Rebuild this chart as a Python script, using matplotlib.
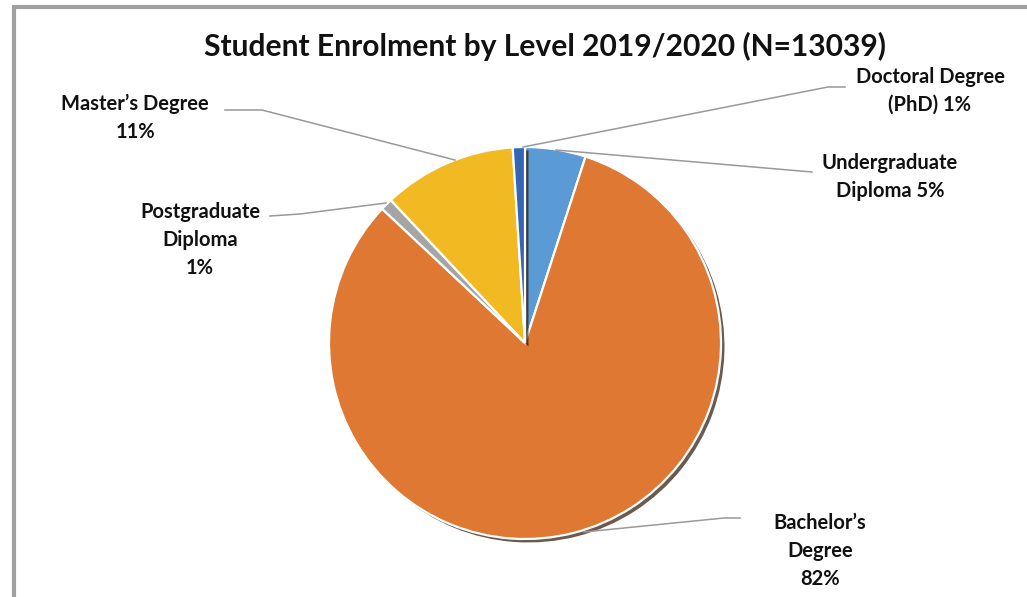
import matplotlib
matplotlib.use("Agg")
import matplotlib.pyplot as plt
import matplotlib.patheffects as pe

# Enrolment share by level (percent), in drawing order starting at 12 o'clock
levels = ["Undergraduate Diploma", "Bachelor's Degree", "Postgraduate Diploma",
          "Master's Degree", "Doctoral Degree (PhD)"]
shares = [5, 82, 1, 11, 1]
colors = ["#5B9BD5", "#DE7833", "#A5A5A5", "#F2BA22", "#3565B5"]
label_texts = ["Undergraduate\nDiploma 5%", "Bachelor\u2019s\nDegree\n82%",
               "Postgraduate\nDiploma\n1%", "Master\u2019s Degree\n11%",
               "Doctoral Degree\n(PhD) 1%"]
title = "Student Enrolment by Level 2019/2020 (N=13039)"

W, H = 1027, 597
fig = plt.figure(figsize=(W / 100, H / 100), dpi=100)
ax = fig.add_axes([0, 0, 1, 1])

def py(y):
    # screen-style y (top down) to axes y
    return H - y

cx, cy, r = 525, py(343), 196
wedges, _ = ax.pie(shares, colors=colors, startangle=90, counterclock=False,
                   center=(cx, cy), radius=r, frame=True,
                   wedgeprops=dict(edgecolor="white", linewidth=1.6))
ax.set_xlim(0, W)
ax.set_ylim(0, H)
ax.set_aspect("equal")
ax.axis("off")
for w in wedges:
    w.set_path_effects([pe.SimplePatchShadow(offset=(2.5, -2.5), shadow_rgbFace="#2a1508", alpha=0.7),
                        pe.Normal()])

# chart frame
frame_col = "#A0A0A0"
ax.plot([13.5, 13.5], [py(597), py(6.5)], color=frame_col, lw=3, solid_capstyle="butt")
ax.plot([12, W], [py(6.5), py(6.5)], color=frame_col, lw=3, solid_capstyle="butt")

ax.text(545, py(46), title, ha="center", va="center", fontsize=21.6,
        fontweight="bold", family="Lato", color="#111111")

lead = "#999999"
leaders = [
    [(556, 150), (812, 172)],
    [(584, 532), (724, 518), (740, 518)],
    [(386, 203), (300, 214), (270, 216)],
    [(455, 160), (262, 110), (225, 110)],
    [(523, 147), (828, 87), (845, 87)],
]
for pts in leaders:
    xs = [p[0] for p in pts]
    ys = [py(p[1]) for p in pts]
    ax.plot(xs, ys, color=lead, lw=1.1)

label_pos = [(890, 177), (820, 551), (200, 240), (135, 118), (930, 91)]
for txt, (x, y) in zip(label_texts, label_pos):
    ax.text(x, py(y), txt, ha="center", va="center", fontsize=14.5,
            fontweight="bold", family="Lato", linespacing=1.48, color="#111111")

fig.savefig("out.png", dpi=100)
